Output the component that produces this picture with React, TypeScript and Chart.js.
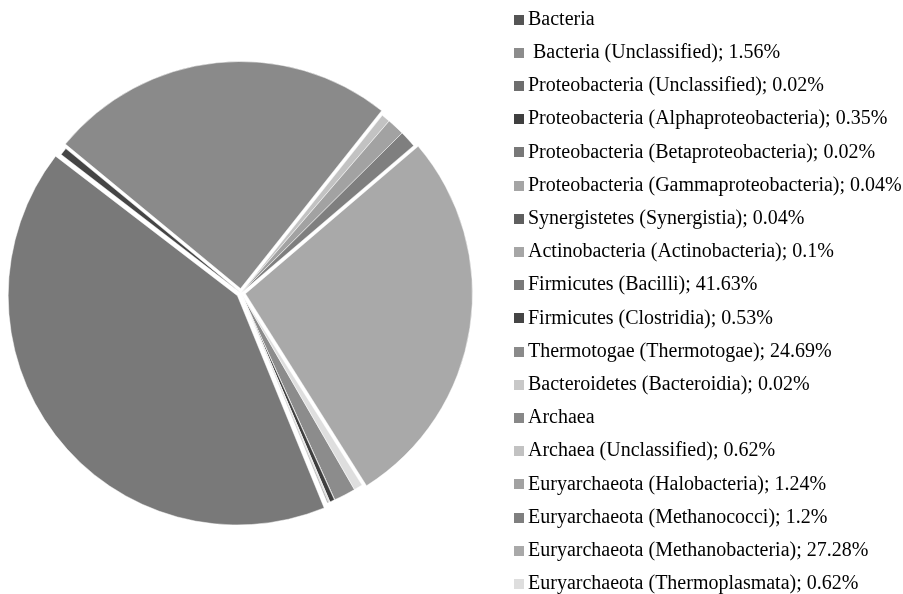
import React, { useEffect, useRef } from "react";
import { Chart, registerables } from "chart.js";

Chart.register(...registerables);

// ---- data ----
const taxa: string[] = [
  "Bacteria",
  " Bacteria (Unclassified)",
  "Proteobacteria (Unclassified)",
  "Proteobacteria (Alphaproteobacteria)",
  "Proteobacteria (Betaproteobacteria)",
  "Proteobacteria (Gammaproteobacteria)",
  "Synergistetes (Synergistia)",
  "Actinobacteria (Actinobacteria)",
  "Firmicutes (Bacilli)",
  "Firmicutes (Clostridia)",
  "Thermotogae (Thermotogae)",
  "Bacteroidetes (Bacteroidia)",
  "Archaea",
  "Archaea (Unclassified)",
  "Euryarchaeota (Halobacteria)",
  "Euryarchaeota (Methanococci)",
  "Euryarchaeota (Methanobacteria)",
  "Euryarchaeota (Thermoplasmata)",
];

const shares: (number | null)[] = [
  null, 1.56, 0.02, 0.35, 0.02, 0.04, 0.04, 0.1, 41.63, 0.53, 24.69, 0.02,
  null, 0.62, 1.24, 1.2, 27.28, 0.62,
];

const sliceColors: string[] = [
  "#555555", "#8c8c8c", "#6e6e6e", "#3f3f3f", "#787878", "#a5a5a5",
  "#5f5f5f", "#a6a6a6", "#797979", "#454545", "#8a8a8a", "#c8c8c8",
  "#888888", "#c2c2c2", "#a2a2a2", "#7f7f7f", "#a9a9a9", "#dedede",
];

const explodedTaxa: string[] = [
  "Firmicutes (Bacilli)",
  "Thermotogae (Thermotogae)",
  "Euryarchaeota (Methanobacteria)",
];

const legendLabels = taxa.map((t, i) =>
  shares[i] === null ? t : `${t}; ${shares[i]}%`
);

// ---- layout constants ----
const LEGEND_X = 514;
const LEGEND_FIRST_Y = 19.6;
const LEGEND_STEP = 33.2;

const sideLegend = {
  id: "sideLegend",
  afterDraw(chart: any) {
    const ctx: CanvasRenderingContext2D = chart.ctx;
    const labels: string[] = chart.data.labels;
    const colors: string[] = chart.data.datasets[0].backgroundColor;
    ctx.save();
    ctx.font = '20px "Liberation Serif", "Times New Roman", serif';
    ctx.textBaseline = "middle";
    ctx.textAlign = "left";
    labels.forEach((text, i) => {
      const y = LEGEND_FIRST_Y + i * LEGEND_STEP;
      ctx.fillStyle = colors[i];
      ctx.fillRect(LEGEND_X, Math.round(y - 5), 10, 10);
      ctx.fillStyle = "#000000";
      ctx.fillText(text, LEGEND_X + 14, y);
    });
    ctx.restore();
  },
};

export default function App() {
  const canvasRef = useRef<HTMLCanvasElement | null>(null);

  useEffect(() => {
    if (!canvasRef.current) return;
    const chart = new Chart(canvasRef.current, {
      type: "pie",
      data: {
        labels: legendLabels,
        datasets: [
          {
            data: shares.map((v) => (v === null ? 0 : v)),
            backgroundColor: sliceColors,
            borderColor: "#ffffff",
            borderWidth: 0.5,
            offset: taxa.map((t) => (explodedTaxa.includes(t) ? 18 : 0)),
          },
        ],
      },
      options: {
        responsive: false,
        animation: false,
        events: [],
        rotation: 150,
        radius: 227,
        layout: { padding: { left: 0, right: 421, top: 0, bottom: 8 } },
        plugins: {
          legend: { display: false },
          tooltip: { enabled: false },
        },
      },
      plugins: [sideLegend],
    });
    return () => chart.destroy();
  }, []);

  return (
    <div style={{ position: "absolute", left: 0, top: 0, width: 903, height: 594, background: "#ffffff" }}>
      <canvas ref={canvasRef} width={903} height={594} style={{ display: "block" }} />
    </div>
  );
}
